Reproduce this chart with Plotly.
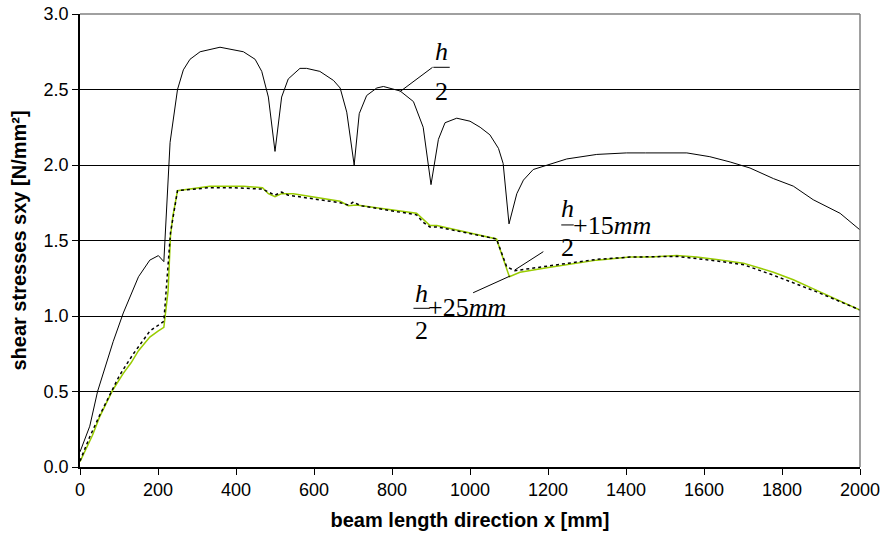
import plotly.graph_objects as go

# h/2 (black solid)
x_h2 = [0, 25, 45, 71, 85, 111, 150, 179, 201, 215, 231, 250, 265, 282, 308, 359, 419, 449, 466, 483,
        500, 517, 534, 564, 581, 615, 650, 667, 684, 703, 716, 735, 761, 778, 821, 855, 880, 900, 919,
        936, 966, 1000, 1026, 1051, 1073, 1085, 1100, 1120, 1137, 1162, 1197, 1248, 1325, 1401, 1450,
        1504, 1556, 1615, 1667, 1718, 1778, 1829, 1880, 1949, 2000]
y_h2 = [0.10, 0.27, 0.50, 0.71, 0.83, 1.02, 1.26, 1.37, 1.40, 1.36, 2.15, 2.50, 2.63, 2.70, 2.75, 2.78,
        2.75, 2.70, 2.62, 2.45, 2.09, 2.45, 2.57, 2.64, 2.64, 2.62, 2.56, 2.51, 2.35, 2.00, 2.34, 2.46,
        2.51, 2.52, 2.49, 2.42, 2.25, 1.87, 2.17, 2.28, 2.31, 2.29, 2.25, 2.20, 2.11, 2.01, 1.61, 1.81,
        1.90, 1.97, 2.00, 2.04, 2.07, 2.08, 2.08, 2.08, 2.08, 2.055, 2.02, 1.98, 1.91, 1.86, 1.77, 1.68,
        1.57]

# h/2 + 25mm (green solid)
x_h25 = [0, 32, 50, 84, 111, 131, 150, 179, 200, 215, 226, 232, 238, 250, 333, 419, 468, 483, 500, 517,
         547, 667, 688, 709, 863, 880, 897, 915, 983, 1068, 1101, 1128, 1197, 1325, 1410, 1462, 1530,
         1581, 1632, 1701, 1778, 1829, 1889, 2000]
y_h25 = [0.035, 0.21, 0.33, 0.51, 0.62, 0.69, 0.77, 0.86, 0.90, 0.925, 1.17, 1.53, 1.66, 1.83, 1.86,
         1.86, 1.85, 1.81, 1.79, 1.81, 1.81, 1.76, 1.73, 1.735, 1.68, 1.64, 1.60, 1.60, 1.56, 1.51,
         1.26, 1.29, 1.32, 1.37, 1.39, 1.39, 1.40, 1.39, 1.375, 1.35, 1.29, 1.24, 1.17, 1.04]

# h/2 + 15mm (black dotted)
x_h15 = [0, 25, 50, 75, 100, 118, 137, 179, 200, 215, 232, 250, 333, 393, 468, 483, 500, 517, 534, 667,
         688, 701, 720, 863, 880, 897, 915, 983, 1068, 1094, 1115, 1197, 1325, 1410, 1530, 1632, 1701,
         1778, 1829, 1889, 2000]
y_h15 = [0.04, 0.20, 0.34, 0.47, 0.60, 0.675, 0.75, 0.90, 0.94, 0.965, 1.55, 1.83, 1.85, 1.85, 1.84,
         1.82, 1.80, 1.82, 1.80, 1.75, 1.735, 1.755, 1.73, 1.67, 1.62, 1.59, 1.59, 1.555, 1.51, 1.326,
         1.30, 1.33, 1.375, 1.39, 1.395, 1.365, 1.34, 1.27, 1.22, 1.16, 1.04]

x_ticks = [0, 200, 400, 600, 800, 1000, 1200, 1400, 1600, 1800, 2000]
y_ticks = [0.0, 0.5, 1.0, 1.5, 2.0, 2.5, 3.0]
y_ticklabels = ["0.0", "0.5", "1.0", "1.5", "2.0", "2.5", "3.0"]

fig = go.Figure()
fig.add_trace(go.Scatter(x=x_h2, y=y_h2, mode="lines", line=dict(color="black", width=1), name="h/2"))
fig.add_trace(go.Scatter(x=x_h25, y=y_h25, mode="lines", line=dict(color="#99cc00", width=1.5), name="h/2+25mm"))
fig.add_trace(go.Scatter(x=x_h15, y=y_h15, mode="lines", line=dict(color="black", width=1.5, dash="dot"), name="h/2+15mm"))

serif = dict(family="Liberation Serif, Times New Roman, serif", size=26, color="black")

def frac_label(xc, y_num, y_bar, y_den, half_w, suffix=None, y_suf=None, x_suf=None):
    fig.add_annotation(x=xc, y=y_num, text="<i>h</i>", showarrow=False, xanchor="center", yanchor="middle", font=serif)
    fig.add_annotation(x=xc, y=y_den, text="2", showarrow=False, xanchor="center", yanchor="middle", font=serif)
    fig.add_shape(type="line", x0=xc - half_w, x1=xc + half_w, y0=y_bar, y1=y_bar, line=dict(color="black", width=1))
    if suffix:
        fig.add_annotation(x=x_suf, y=y_suf, text=suffix, showarrow=False, xanchor="left", yanchor="middle", font=serif)

frac_label(927, 2.755, 2.647, 2.49, 21)
fig.add_shape(type="line", x0=904, y0=2.647, x1=820, y1=2.485, line=dict(color="black", width=1))

frac_label(1250, 1.71, 1.603, 1.455, 16, "+15<i>mm</i>", 1.60, 1260)
fig.add_shape(type="line", x0=1188, y0=1.426, x1=1115, y1=1.305, line=dict(color="black", width=1))

frac_label(876, 1.15, 1.051, 0.905, 21, "+25<i>mm</i>", 1.055, 888)
fig.add_shape(type="line", x0=1008, y0=1.154, x1=1103, y1=1.265, line=dict(color="black", width=1))

# gray top/right frame
fig.add_shape(type="line", xref="paper", yref="paper", x0=0, x1=1, y0=1, y1=1, line=dict(color="#808080", width=1.5), layer="above")
fig.add_shape(type="line", xref="paper", yref="paper", x0=1, x1=1, y0=0, y1=1, line=dict(color="#808080", width=1.5), layer="above")

fig.update_layout(
    width=884, height=541,
    margin=dict(l=80, r=24, t=14, b=74, autoexpand=False),
    paper_bgcolor="white", plot_bgcolor="white",
    showlegend=False,
    font=dict(family="Liberation Sans, Arial, sans-serif", size=18, color="black"),
    xaxis=dict(
        range=[0, 2000], tickmode="array", tickvals=x_ticks, automargin=False,
        showgrid=False, zeroline=False,
        showline=True, linecolor="black", linewidth=1.5,
        ticks="outside", ticklen=6, tickcolor="black", tickwidth=1,
        title=dict(text="<b>beam length direction x [mm]</b>", font=dict(size=20), standoff=14),
    ),
    yaxis=dict(
        range=[0, 3], tickmode="array", tickvals=y_ticks, ticktext=y_ticklabels, automargin=False,
        showgrid=True, gridcolor="black", gridwidth=1, zeroline=False,
        showline=True, linecolor="black", linewidth=1.5,
        ticks="outside", ticklen=6, tickcolor="black", tickwidth=1,
        title=dict(text="<b>shear stresses sxy [N/mm²]</b>", font=dict(size=20), standoff=12),
    ),
)

fig.write_html("out.html")
